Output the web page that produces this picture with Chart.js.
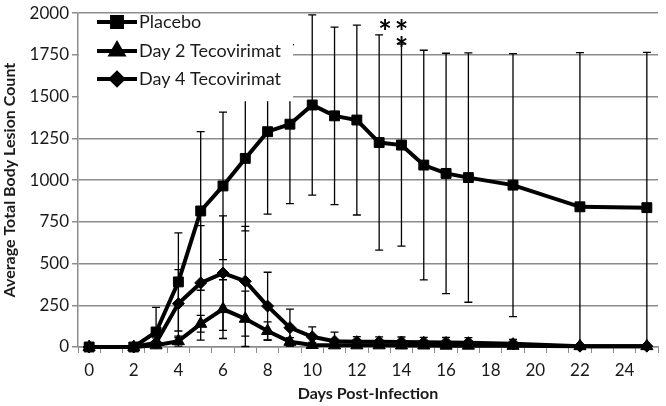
<!DOCTYPE html>
<html>
<head>
<meta charset="utf-8">
<script src="https://cdn.jsdelivr.net/npm/chart.js@4.4.0/dist/chart.umd.min.js"></script>
<style>
  html, body { margin: 0; padding: 0; background: #fff; }
  #wrap { width: 666px; height: 406px; }
</style>
</head>
<body>
<div id="wrap"><canvas id="myChart" width="666" height="406"></canvas></div>
<script>
// values
var Days = [0, 2, 3, 4, 5, 6, 7, 8, 9, 10, 11, 12, 13, 14, 15, 16, 17, 19, 22, 25];
var Placebo = [0, 0, 90, 390, 815, 965, 1130, 1290, 1335, 1450, 1385, 1360, 1225, 1210, 1090, 1040, 1015, 970, 840, 835];
var PlaceboErr = [0, 0, 147, 294, 475, 442, 434, 494, 476, 540, 532, 569, 645, 605, 688, 720, 747, 788, 924, 930];
var Day2 = [0, 0, 10, 35, 139, 227, 169, 96, 31, 12, 10, 10, 10, 9, 9, 8, 8, 7, 5, 5];
var Day2Err = [0, 0, 10, 30, 50, 176, 166, 55, 25, 15, 15, 15, 15, 14, 14, 14, 14, 12, 0, 0];
var Day4 = [0, 0, 25, 260, 384, 443, 394, 245, 116, 61, 35, 32, 31, 30, 28, 27, 26, 20, 5, 5];
var Day4Err = [0, 0, 30, 204, 343, 343, 329, 203, 111, 59, 54, 30, 30, 30, 30, 30, 30, 25, 0, 0];
var SeriesNames = ['Placebo', 'Day 2 Tecovirimat', 'Day 4 Tecovirimat'];
var XLabels = [0, 2, 4, 6, 8, 10, 12, 14, 16, 18, 20, 22, 24];

var gray = '#8c8c8c';
var FONT = 'Lato, "Open Sans", sans-serif';

function points(vals) {
    var out = [];
    for (var i = 0; i < Days.length; i++) {
        out.push({ x: Days[i], y: vals[i] });
    }
    return out;
}

// error bars, drawn with the chart's own scales
const errorBars = {
    id: 'errorBars',
    beforeDatasetsDraw: function (chart) {
        const ctx = chart.ctx;
        const xs = chart.scales.x, ys = chart.scales.y;
        const errs = [PlaceboErr, Day2Err, Day4Err];
        ctx.save();
        ctx.strokeStyle = '#000';
        ctx.lineWidth = 1.3;
        chart.data.datasets.forEach(function (ds, d) {
            ds.data.forEach(function (p, i) {
                var e = errs[d][i];
                if (!e) return;
                var x = xs.getPixelForValue(p.x);
                var hi = ys.getPixelForValue(Math.min(2000, p.y + e));
                var lo = ys.getPixelForValue(Math.max(0, p.y - e));
                ctx.beginPath();
                ctx.moveTo(x, hi); ctx.lineTo(x, lo);
                ctx.moveTo(x - 4, hi); ctx.lineTo(x + 4, hi);
                if (p.y - e >= 0) { ctx.moveTo(x - 4, lo); ctx.lineTo(x + 4, lo); }
                ctx.stroke();
            });
        });
        ctx.restore();
    }
};

// legend box inside the plot and significance stars
const overlay = {
    id: 'overlay',
    afterDatasetsDraw: function (chart) {
        const ctx = chart.ctx;
        const xs = chart.scales.x, ys = chart.scales.y;
        const area = chart.chartArea;
        ctx.save();
        ctx.fillStyle = '#fff';
        ctx.fillRect(area.left + 1, area.top + 1, 214, 87);
        var rowY = [22, 51, 79];
        chart.data.datasets.forEach(function (ds, d) {
            var y = rowY[d];
            ctx.strokeStyle = '#000';
            ctx.lineWidth = 4;
            ctx.beginPath();
            ctx.moveTo(97, y); ctx.lineTo(137, y);
            ctx.stroke();
            ctx.fillStyle = '#000';
            Chart.helpers.drawPoint(ctx, {
                pointStyle: ds.pointStyle, radius: ds.pointRadius, rotation: 0, borderWidth: 1
            }, 117, y);
            ctx.fillStyle = '#1a1a1a';
            ctx.font = '18px ' + FONT;
            ctx.textBaseline = 'middle';
            ctx.textAlign = 'left';
            ctx.fillText(SeriesNames[d], 139, y);
        });
        ctx.fillStyle = '#000';
        ctx.font = 'bold 32px ' + FONT;
        ctx.textAlign = 'center';
        ctx.textBaseline = 'middle';
        ctx.fillText('*', xs.getPixelForValue(13) + 6, ys.getPixelForValue(1880));
        ctx.fillText('*', xs.getPixelForValue(14), ys.getPixelForValue(1880));
        ctx.fillText('*', xs.getPixelForValue(14), ys.getPixelForValue(1775));
        ctx.restore();
    }
};

function initchart() {
    const common = {
        borderColor: '#000',
        backgroundColor: '#000',
        pointBackgroundColor: '#000',
        pointBorderColor: '#000',
        borderWidth: 4,
        pointBorderWidth: 1,
        tension: 0,
        clip: false
    };
    const data = {
        datasets: [
            Object.assign({ label: SeriesNames[0], data: points(Placebo), pointStyle: 'rect', pointRadius: 7 }, common),
            Object.assign({ label: SeriesNames[1], data: points(Day2), pointStyle: 'triangle', pointRadius: 7 }, common),
            Object.assign({ label: SeriesNames[2], data: points(Day4), pointStyle: 'rectRot', pointRadius: 6 }, common)
        ]
    };

    const config = {
        type: 'line',
        data: data,
        options: {
            responsive: false,
            animation: false,
            layout: { padding: { top: 6, right: 0, left: 0, bottom: 0 } },
            plugins: { legend: { display: false }, tooltip: { enabled: false } },
            scales: {
                x: {
                    type: 'linear',
                    min: -0.5,
                    max: 25.5,
                    afterBuildTicks: function (scale) {
                        var t = [];
                        for (var v = -0.5; v <= 25.5; v += 0.5) t.push({ value: v });
                        scale.ticks = t;
                    },
                    afterFit: function (scale) { scale.height = 59; },
                    ticks: {
                        autoSkip: false,
                        maxRotation: 0,
                        color: '#1a1a1a',
                        font: { family: FONT, size: 17 },
                        padding: 7,
                        callback: function (v) {
                            return XLabels.indexOf(v) >= 0 ? String(v) : '';
                        }
                    },
                    grid: {
                        drawOnChartArea: false,
                        tickLength: 6,
                        tickColor: function (c) {
                            return (c.tick && !Number.isInteger(c.tick.value)) ? gray : 'rgba(0,0,0,0)';
                        }
                    },
                    border: { color: gray, width: 1.5 },
                    title: {
                        display: true,
                        text: 'Days Post-Infection',
                        color: '#1a1a1a',
                        font: { family: FONT, size: 16, weight: 'bold' },
                        padding: { top: 0, bottom: 3 }
                    }
                },
                y: {
                    min: 0,
                    max: 2000,
                    afterFit: function (scale) { scale.width = 78; },
                    ticks: {
                        stepSize: 250,
                        color: '#1a1a1a',
                        font: { family: FONT, size: 17 },
                        padding: 3,
                        callback: function (v) { return String(v); }
                    },
                    grid: { color: gray, lineWidth: 1.5, tickLength: 6, tickColor: gray },
                    border: { color: gray, width: 1.5 },
                    title: {
                        display: true,
                        text: 'Average Total Body Lesion Count',
                        color: '#1a1a1a',
                        font: { family: FONT, size: 16, weight: 'bold' },
                        padding: { top: 0, bottom: 0 }
                    }
                }
            }
        },
        plugins: [errorBars, overlay]
    };

    const myChart = new Chart(document.getElementById('myChart'), config);
}

initchart();
</script>
</body>
</html>
